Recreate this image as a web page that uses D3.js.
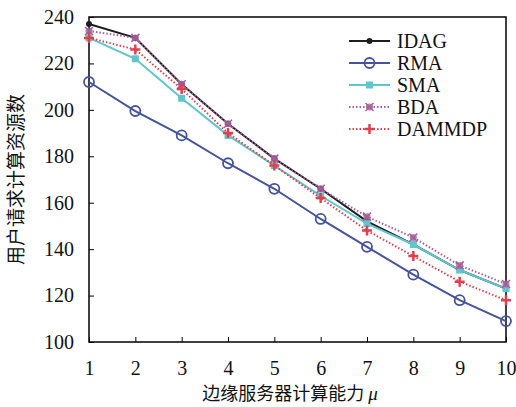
<!DOCTYPE html>
<html lang="zh">
<head>
<meta charset="utf-8">
<title>用户请求计算资源数</title>
<script src="https://d3js.org/d3.v7.min.js"></script>
<style>
  body { margin: 0; background: #fff; }
  text { font-family: "Liberation Serif", "Times New Roman", serif; }
</style>
</head>
<body>
<script>
// data
var mu = [1, 2, 3, 4, 5, 6, 7, 8, 9, 10];
var idag   = [237, 231, 211, 194, 179, 166, 152, 142, 131, 123];
var rma    = [212, 199.5, 189, 177, 166, 153, 141, 129, 118, 109];
var sma    = [231, 222, 205, 189, 176, 163, 151, 142, 131, 123];
var bda    = [234, 231, 211, 194, 179, 166, 154, 145, 133, 125];
var dammdp = [231, 226, 209, 190, 176, 162, 148, 137, 126, 118];
var yTicks = [100, 120, 140, 160, 180, 200, 220, 240];

var series = [
  {name: "IDAG",   values: idag,   color: "#1e1e1e", dash: null,  width: 2,   marker: "dot"},
  {name: "RMA",    values: rma,    color: "#45549a", dash: null,  width: 2,   marker: "circle"},
  {name: "SMA",    values: sma,    color: "#5ec6cc", dash: null,  width: 2,   marker: "square"},
  {name: "BDA",    values: bda,    color: "#a5609a", dash: "1.5,2", width: 2, marker: "xcircle"},
  {name: "DAMMDP", values: dammdp, color: "#e0404e", dash: "1.5,2", width: 2, marker: "plus"}
];

var w = 516, h = 407;
var m = {left: 89, right: 10, top: 17, bottom: 65};

var svg = d3.select("body").append("svg")
  .attr("width", w).attr("height", h);

var x = d3.scaleLinear().domain([1, 10]).range([m.left, w - m.right]);
var y = d3.scaleLinear().domain([100, 240]).range([h - m.bottom, m.top]);

// frame
svg.append("rect")
  .attr("x", m.left).attr("y", m.top)
  .attr("width", w - m.right - m.left)
  .attr("height", h - m.bottom - m.top)
  .attr("fill", "none").attr("stroke", "#000").attr("stroke-width", 1.5);

var xAxis = svg.append("g")
  .attr("transform", "translate(0," + (h - m.bottom) + ")")
  .call(d3.axisBottom(x).tickValues(mu).tickSizeInner(-5).tickSizeOuter(0).tickPadding(19));
xAxis.select(".domain").remove();
xAxis.selectAll("text").attr("font-size", 20).attr("fill", "#111")
  .style("font-family", "Liberation Serif, serif");

var yAxis = svg.append("g")
  .attr("transform", "translate(" + m.left + ",0)")
  .call(d3.axisLeft(y).tickValues(yTicks).tickSizeInner(-5).tickSizeOuter(0).tickPadding(15));
yAxis.select(".domain").remove();
yAxis.selectAll("text").attr("font-size", 20).attr("fill", "#111")
  .style("font-family", "Liberation Serif, serif");

// axis titles
svg.append("text")
  .attr("x", 290).attr("y", 400)
  .attr("text-anchor", "middle").attr("font-size", 18).attr("fill", "#111")
  .style("font-family", "Noto Sans CJK SC, sans-serif")
  .text("边缘服务器计算能力 ")
  .append("tspan").style("font-family", "Liberation Serif, serif")
  .attr("font-style", "italic").attr("font-size", 19).text("μ");

svg.append("text")
  .attr("transform", "translate(23," + ((m.top + h - m.bottom) / 2) + ") rotate(-90)")
  .attr("text-anchor", "middle").attr("font-size", 19).attr("fill", "#111")
  .style("font-family", "Noto Sans CJK SC, sans-serif")
  .text("用户请求计算资源数");

var line = d3.line()
  .x(function(d, i) { return x(mu[i]); })
  .y(function(d) { return y(d); });

function drawMarker(g, type, color, cx, cy) {
  if (type === "dot") {
    g.append("circle").attr("cx", cx).attr("cy", cy).attr("r", 3).attr("fill", color);
  } else if (type === "circle") {
    g.append("circle").attr("cx", cx).attr("cy", cy).attr("r", 5)
      .attr("fill", "none").attr("stroke", color).attr("stroke-width", 1.8);
  } else if (type === "square") {
    g.append("rect").attr("x", cx - 3.5).attr("y", cy - 3.5).attr("width", 7).attr("height", 7)
      .attr("fill", color);
  } else if (type === "xcircle") {
    g.append("circle").attr("cx", cx).attr("cy", cy).attr("r", 3.5).attr("fill", color).attr("opacity", 0.8);
    g.append("path").attr("d", "M" + (cx - 4) + "," + (cy - 4) + "L" + (cx + 4) + "," + (cy + 4) +
        "M" + (cx - 4) + "," + (cy + 4) + "L" + (cx + 4) + "," + (cy - 4))
      .attr("stroke", color).attr("stroke-width", 1.5);
  } else if (type === "plus") {
    g.append("path").attr("d", "M" + (cx - 5) + "," + cy + "L" + (cx + 5) + "," + cy +
        "M" + cx + "," + (cy - 5) + "L" + cx + "," + (cy + 5))
      .attr("stroke", color).attr("stroke-width", 2.5);
  }
}

series.forEach(function(s) {
  var g = svg.append("g");
  g.append("path").datum(s.values)
    .attr("d", line)
    .attr("fill", "none")
    .attr("stroke", s.color)
    .attr("stroke-width", s.width)
    .attr("stroke-dasharray", s.dash);
  s.values.forEach(function(v, i) {
    drawMarker(g, s.marker, s.color, x(mu[i]), y(v));
  });
});

// legend
var leg = svg.append("g");
series.forEach(function(s, i) {
  var ly = 41 + i * 22;
  leg.append("line").attr("x1", 349).attr("x2", 390).attr("y1", ly).attr("y2", ly)
    .attr("stroke", s.color).attr("stroke-width", s.width).attr("stroke-dasharray", s.dash);
  drawMarker(leg, s.marker, s.color, 369.5, ly);
  leg.append("text").attr("x", 397).attr("y", ly + 7)
    .attr("font-size", 20).attr("fill", "#111").text(s.name);
});
</script>
</body>
</html>
